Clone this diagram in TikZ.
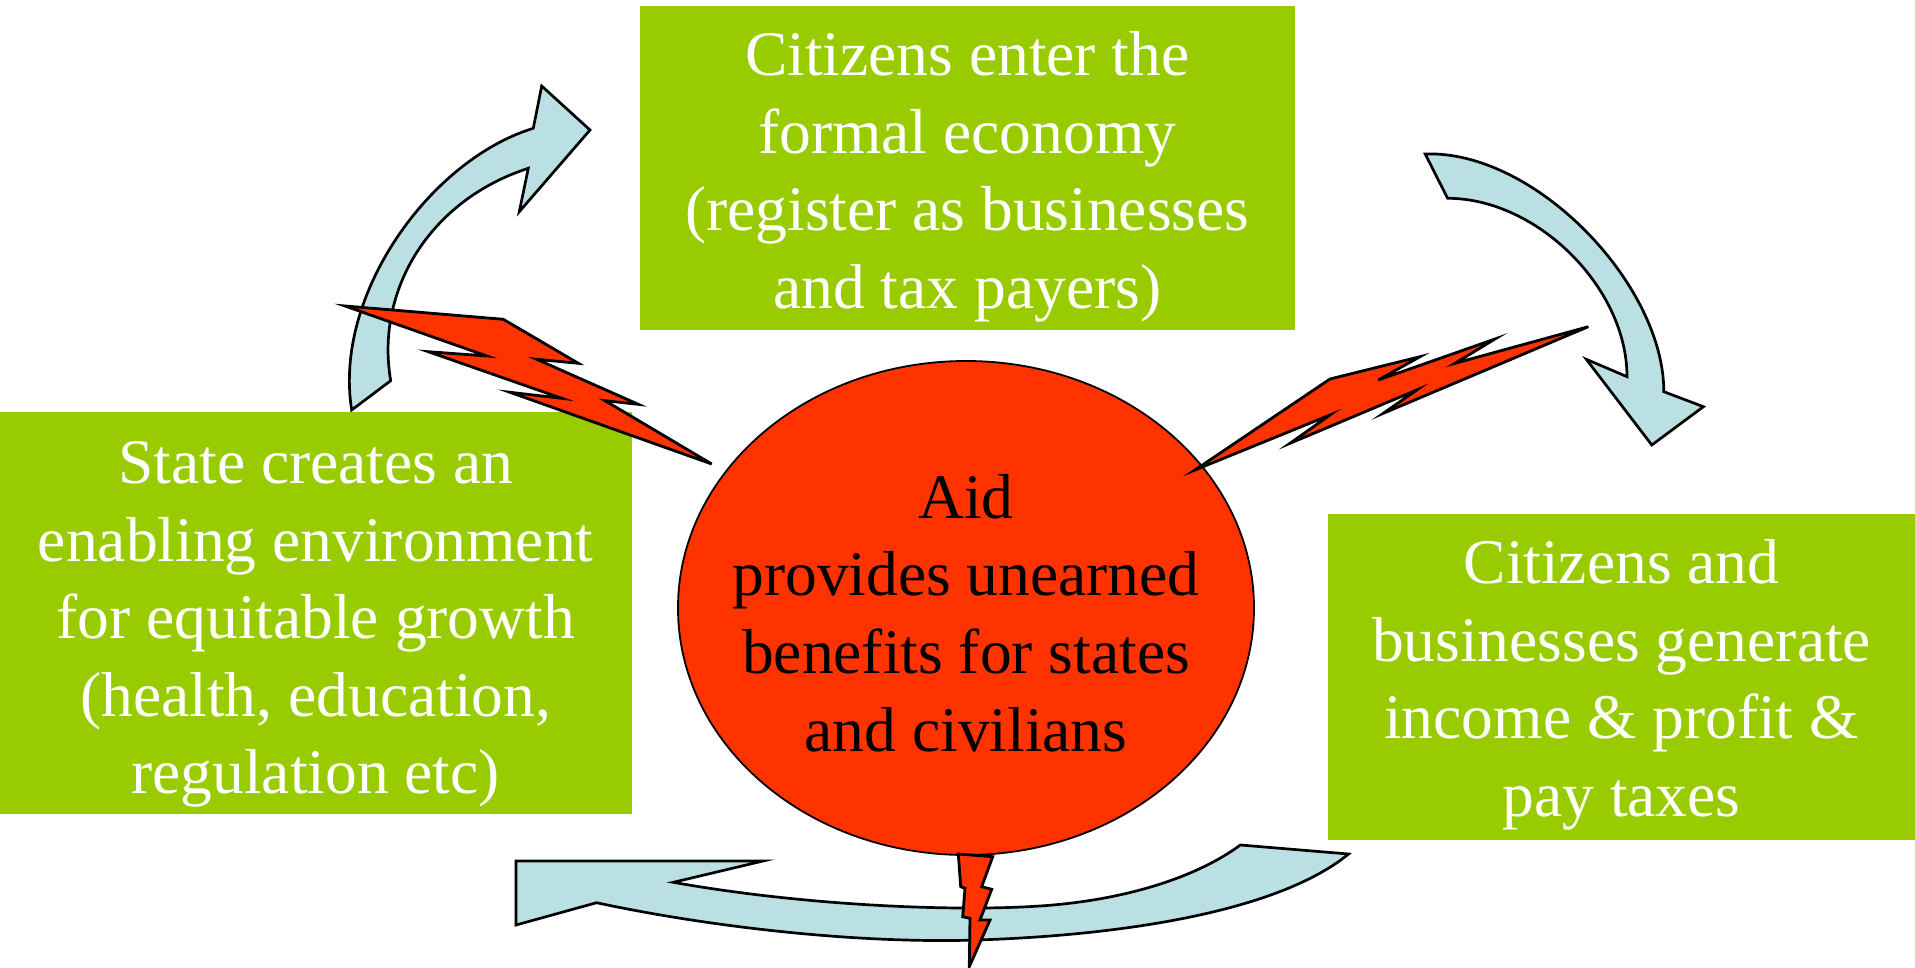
\documentclass[tikz,border=0pt]{standalone}
\usepackage{fontspec}
\setmainfont{Liberation Serif}
\usetikzlibrary{shapes.geometric}
\definecolor{boxgreen}{RGB}{153,204,0}
\definecolor{aidred}{RGB}{255,51,0}
\definecolor{arrowblue}{RGB}{187,224,227}

\begin{document}
\begin{tikzpicture}[x=1pt,y=-1pt,
  greenbox/.style={rectangle, fill=boxgreen, inner sep=0pt},
  boxtext/.style={align=center, text=white, inner sep=0pt, font=\fontsize{63.5}{77.6}\selectfont},
  aidbubble/.style={ellipse, draw=black, line width=1.8pt, fill=aidred, inner sep=0pt,
    minimum width=576pt, minimum height=494pt},
  aidtext/.style={boxtext, text=black},
  blockarrow/.style={fill=arrowblue, draw=black, line width=2.7pt, line join=miter},
  bolt/.style={fill=aidred, draw=black, line width=2.8pt, line join=miter}]
\useasboundingbox (0,0) rectangle (1915,968);

\node[greenbox, minimum width=655pt, minimum height=324pt] (formal) at (967.3,168) {};
\node[boxtext, yshift=-9pt] (formaltext) at (formal.center) {Citizens enter the\\formal economy\\(register as businesses\\and tax payers)};
\node[greenbox, minimum width=632pt, minimum height=402pt] (state) at (315.7,612.5) {};
\node[boxtext, yshift=-12pt] (statetext) at (state.center) {State creates an\\enabling environment\\for equitable growth\\(health, education,\\regulation etc)};
\node[greenbox, minimum width=588pt, minimum height=326pt] (taxes) at (1621.5,677) {};
\node[boxtext, yshift=-8pt] (taxestext) at (taxes.center) {Citizens and\\businesses generate\\income \& profit \&\\pay taxes};

\node[aidbubble] (aid) at (966,608) {};
\node[aidtext] (aidtext) at (966,613) {Aid\\provides unearned\\benefits for states\\and civilians};

% cycle arrows
\filldraw[blockarrow] (351.7,410) -- (390.7,380.7)
  .. controls (375,290) and (430,200) .. (528.3,168.3)
  -- (519.3,211.7) -- (590,130) -- (541.7,86) -- (533.3,128.3)
  .. controls (430,160) and (333,295) .. (351.7,410) -- cycle;
\filldraw[blockarrow] (1425.2,154)
  .. controls (1535,150) and (1664,284.5) .. (1663.8,391.7)
  -- (1703.4,406.7) -- (1651.8,445) -- (1586.3,359.3) -- (1627,376.7)
  .. controls (1627,287.5) and (1537,198.3) .. (1447.6,198.3) -- cycle;
\filldraw[blockarrow] (516,861) -- (763,861) -- (673.3,882.3)
  .. controls (800,905) and (950,912) .. (1040,906)
  .. controls (1130,900) and (1200,875) .. (1240.3,845)
  -- (1348.6,854)
  .. controls (1280,910) and (1130,935) .. (977,940)
  .. controls (850,944) and (700,925) .. (596.6,902.7)
  -- (516,925) -- cycle;

% lightning
\filldraw[bolt] (345,306) -- (486.7,356) -- (428.3,351.7) -- (561.7,398.3) -- (510,392.3) -- (711.7,464)
  -- (605,400.7) -- (638.3,404.3) -- (536.7,359.3) -- (578.3,363.3) -- (503.3,319.3) -- cycle;
\filldraw[bolt] (1195,470) -- (1330,415) -- (1290,443.3) -- (1416.7,390) -- (1383.3,413.3) -- (1588.3,326.7)
  -- (1455,363.3) -- (1495,339) -- (1378.3,380) -- (1420,356.7) -- (1330,379) -- cycle;
\filldraw[bolt] (958.3,854) -- (960.7,886.7) -- (965,888.3) -- (962.7,916.7) -- (970,918.3) -- (969.3,966.7)
  -- (990,920) -- (980,920) -- (991.7,889.3) -- (981.7,886.7) -- (992.7,856.7) -- cycle;
\end{tikzpicture}
\end{document}
